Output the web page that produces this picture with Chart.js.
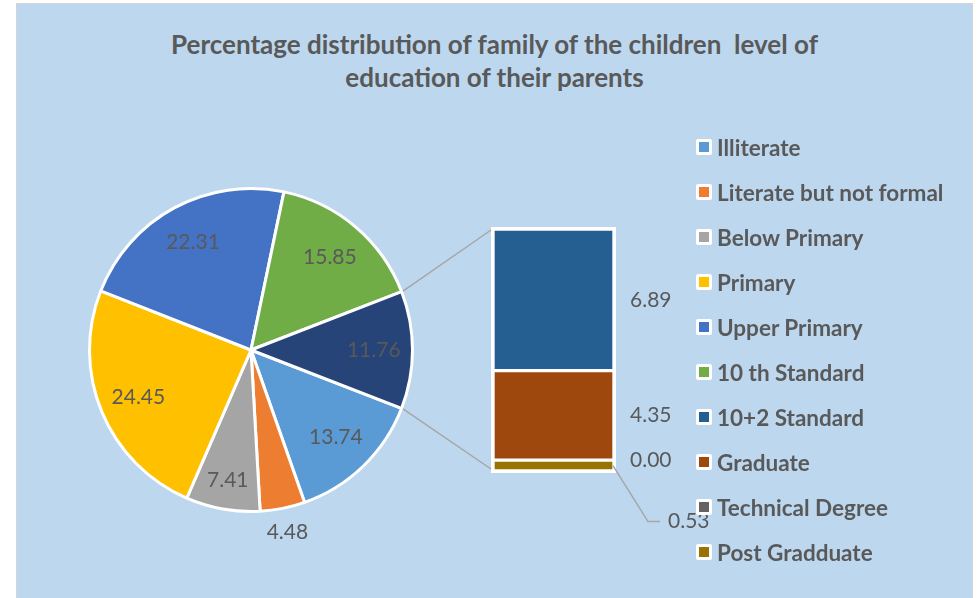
<!DOCTYPE html>
<html>
<head>
<meta charset="utf-8">
<script src="https://cdn.jsdelivr.net/npm/chart.js@4.4.0/dist/chart.umd.min.js"></script>
<style>
  html, body { margin: 0; padding: 0; background: #fff; width: 979px; height: 598px; overflow: hidden; font-family: Lato, "Open Sans", sans-serif; }
  #frame { position: absolute; left: 16px; top: 3px; width: 957px; height: 600px; background: #BDD7EE; border: 1px solid #D4D4D4; box-sizing: border-box; }
  #title { position: absolute; left: 17px; width: 955px; top: 28px; text-align: center; font-weight: 700; font-size: 26px; color: #595959; line-height: 33px; white-space: pre; }
  canvas { position: absolute; left: 0; top: 0; }
  #legend { position: absolute; left: 696px; top: 0; }
  .item { position: absolute; left: 0; height: 20px; display: flex; align-items: center; white-space: nowrap; font-weight: 700; font-size: 22.5px; color: #595959; }
  .mk { width: 16px; height: 16px; background: #fff; border-radius: 2px; display: flex; align-items: center; justify-content: center; margin-right: 5px; flex: none; }
  .mk i { display: block; width: 10px; height: 10px; }
</style>
</head>
<body>
<div id="frame"></div>
<div id="title">Percentage distribution of family of the children  level of
education of their parents</div>
<canvas id="pie" width="979" height="598"></canvas>
<canvas id="bar" width="979" height="598"></canvas>
<div id="legend"></div>
<script>
// Education levels shown as pie slices
const pieCategories = ['Illiterate', 'Literate but not formal', 'Below Primary', 'Primary', 'Upper Primary', '10 th Standard'];
const pieShares = [13.74, 4.48, 7.41, 24.45, 22.31, 15.85];
// Remaining levels, grouped into one slice and broken out in the stacked bar
const barCategories = ['10+2 Standard', 'Graduate', 'Technical Degree', 'Post Gradduate'];
const barShares = [6.89, 4.35, 0.00, 0.53];
const otherShare = 11.76;

const pieColors = ['#5B9BD5', '#ED7D31', '#A5A5A5', '#FFC000', '#4472C4', '#70AD47'];
const otherColor = '#264478';
const barColors = ['#255E91', '#9E480E', '#636363', '#997300'];

const textColor = '#595959';
const labelFont = '21px Lato, "Open Sans", sans-serif';
// radial position of each pie label (fraction of radius)
const pieLabelRadius = [0.755, 1.15, 0.82, 0.755, 0.755, 0.755, 0.76];

Chart.defaults.devicePixelRatio = 1;

const pieLabels = {
  id: 'pieLabels',
  afterDatasetsDraw(chart) {
    const ctx = chart.ctx;
    const values = chart.data.datasets[0].data;
    ctx.save();
    ctx.font = labelFont;
    ctx.fillStyle = textColor;
    ctx.textAlign = 'center';
    ctx.textBaseline = 'middle';
    chart.getDatasetMeta(0).data.forEach((arc, i) => {
      const mid = (arc.startAngle + arc.endAngle) / 2;
      const r = arc.outerRadius * pieLabelRadius[i];
      ctx.fillText(values[i].toFixed(2), arc.x + r * Math.cos(mid), arc.y + r * Math.sin(mid));
    });
    ctx.restore();
  }
};

const pieChart = new Chart(document.getElementById('pie'), {
  type: 'pie',
  data: {
    labels: pieCategories.concat(['Other']),
    datasets: [{
      data: pieShares.concat([otherShare]),
      backgroundColor: pieColors.concat([otherColor]),
      borderColor: '#FFFFFF',
      borderWidth: 3
    }]
  },
  options: {
    responsive: false,
    animation: false,
    // grouped slice centred on the right-hand side
    rotation: 90 + otherShare / 100 * 180,
    layout: { padding: { left: 88, top: 187, right: 565, bottom: 85 } },
    plugins: { legend: { display: false }, tooltip: { enabled: false } }
  },
  plugins: [pieLabels]
});

const barDecor = {
  id: 'barDecor',
  beforeDatasetsDraw(chart) {
    const ctx = chart.ctx;
    const y = chart.scales.y;
    const el = chart.getDatasetMeta(0).data[0];
    const left = el.x - el.width / 2, right = el.x + el.width / 2;
    const top = y.getPixelForValue(y.max), bottom = y.getPixelForValue(0);
    ctx.save();
    ctx.fillStyle = '#FFFFFF';
    ctx.fillRect(left - 2, top - 2, right - left + 4, bottom - top + 4);
    ctx.restore();
  },
  afterDatasetsDraw(chart) {
    const ctx = chart.ctx;
    const y = chart.scales.y;
    const first = chart.getDatasetMeta(0).data[0];
    const left = first.x - first.width / 2, right = first.x + first.width / 2;
    const top = y.getPixelForValue(y.max), bottom = y.getPixelForValue(0);

    // connectors from the grouped slice to the bar
    const arcs = pieChart.getDatasetMeta(0).data;
    const arc = arcs[arcs.length - 1];
    const R = arc.outerRadius + 1.5;
    ctx.save();
    ctx.strokeStyle = '#A6A6A6';
    ctx.lineWidth = 1.5;
    ctx.beginPath();
    ctx.moveTo(arc.x + R * Math.cos(arc.startAngle), arc.y + R * Math.sin(arc.startAngle));
    ctx.lineTo(left - 2, top + 1);
    ctx.moveTo(arc.x + R * Math.cos(arc.endAngle), arc.y + R * Math.sin(arc.endAngle));
    ctx.lineTo(left - 2, bottom - 2);
    ctx.stroke();

    // value labels right of each segment
    ctx.font = labelFont;
    ctx.fillStyle = textColor;
    ctx.textAlign = 'left';
    ctx.textBaseline = 'middle';
    chart.data.datasets.forEach((ds, di) => {
      const el = chart.getDatasetMeta(di).data[0];
      const midY = (el.y + el.base) / 2;
      const text = ds.data[0].toFixed(2);
      if (di === 0) {
        // thin bottom segment: label pulled down with a leader line
        ctx.beginPath();
        ctx.moveTo(right - 1, midY);
        ctx.lineTo(right + 34, midY + 56);
        ctx.lineTo(right + 46, midY + 56);
        ctx.stroke();
        ctx.fillText(text, right + 54, midY + 56);
      } else {
        ctx.fillText(text, right + 16, midY);
      }
    });
    ctx.restore();
  }
};

const barTotal = barShares.reduce((a, b) => a + b, 0);
const barDatasets = barCategories.map((name, i) => ({
  label: name,
  data: [barShares[i]],
  backgroundColor: barColors[i],
  borderColor: '#FFFFFF',
  borderWidth: 2,
  borderSkipped: false,
  barPercentage: 1,
  categoryPercentage: 1
})).reverse();

new Chart(document.getElementById('bar'), {
  type: 'bar',
  data: { labels: [''], datasets: barDatasets },
  options: {
    responsive: false,
    animation: false,
    layout: { padding: { left: 493, right: 365, top: 229, bottom: 127 } },
    scales: {
      x: { display: false, stacked: true },
      y: { display: false, stacked: true, min: 0, max: barTotal }
    },
    plugins: { legend: { display: false }, tooltip: { enabled: false } }
  },
  plugins: [barDecor]
});

// legend
const legendNames = pieCategories.concat(barCategories);
const legendColors = pieColors.concat(barColors);
const legend = document.getElementById('legend');
legendNames.forEach((name, i) => {
  const item = document.createElement('div');
  item.className = 'item';
  item.style.top = (137 + 45 * i) + 'px';
  const mk = document.createElement('span');
  mk.className = 'mk';
  const sw = document.createElement('i');
  sw.style.background = legendColors[i];
  mk.appendChild(sw);
  item.appendChild(mk);
  item.appendChild(document.createTextNode(name));
  legend.appendChild(item);
});
</script>
</body>
</html>
